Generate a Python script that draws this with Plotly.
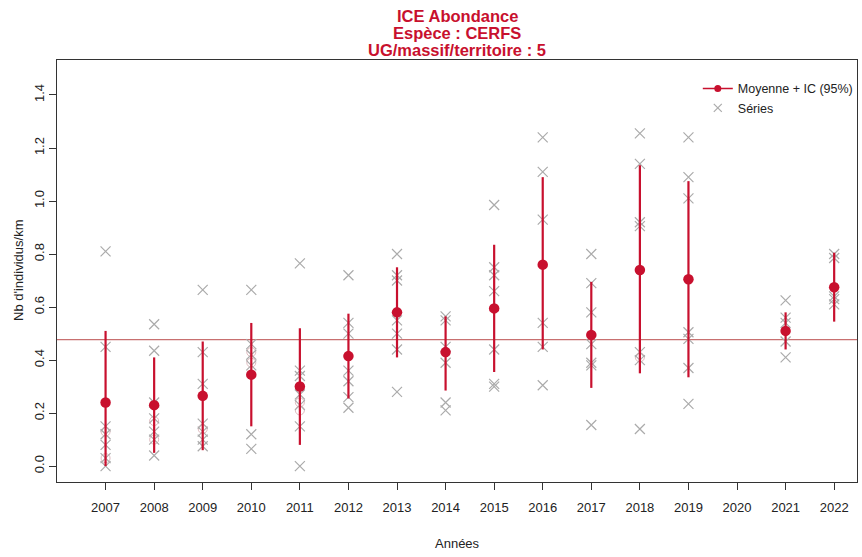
import plotly.graph_objects as go

# ---- Data ----
annees = [2007, 2008, 2009, 2010, 2011, 2012, 2013, 2014, 2015, 2016, 2017, 2018, 2019, 2020, 2021, 2022]
moyenne = [0.24, 0.23, 0.265, 0.345, 0.30, 0.415, 0.58, 0.43, 0.595, 0.76, 0.495, 0.74, 0.705, None, 0.51, 0.675]
ic_bas = [0.0, 0.05, 0.06, 0.15, 0.08, 0.255, 0.41, 0.285, 0.355, 0.44, 0.295, 0.35, 0.335, None, 0.44, 0.545]
ic_haut = [0.51, 0.41, 0.47, 0.54, 0.52, 0.575, 0.75, 0.565, 0.835, 1.09, 0.695, 1.135, 1.075, None, 0.58, 0.805]
moyenne_globale = 0.477

series_par_annee = {
    2007: [0.81, 0.45, 0.15, 0.12, 0.08, 0.03, 0.0],
    2008: [0.535, 0.435, 0.24, 0.18, 0.13, 0.10, 0.04],
    2009: [0.665, 0.43, 0.31, 0.16, 0.13, 0.10, 0.075],
    2010: [0.665, 0.46, 0.42, 0.38, 0.12, 0.065],
    2011: [0.765, 0.36, 0.34, 0.27, 0.23, 0.15, 0.0],
    2012: [0.72, 0.54, 0.50, 0.36, 0.32, 0.26, 0.22],
    2013: [0.80, 0.72, 0.70, 0.55, 0.50, 0.44, 0.28],
    2014: [0.565, 0.55, 0.45, 0.39, 0.24, 0.21],
    2015: [0.985, 0.75, 0.72, 0.66, 0.44, 0.31, 0.30],
    2016: [1.24, 1.11, 0.93, 0.54, 0.45, 0.305],
    2017: [0.80, 0.69, 0.58, 0.46, 0.39, 0.38, 0.155],
    2018: [1.255, 1.14, 0.92, 0.905, 0.43, 0.40, 0.14],
    2019: [1.24, 1.09, 1.01, 0.505, 0.48, 0.37, 0.235],
    2021: [0.625, 0.56, 0.54, 0.47, 0.41],
    2022: [0.80, 0.785, 0.64, 0.63, 0.61],
}
cercles_annee = [2007, 2007, 2008, 2008, 2009, 2010, 2010, 2011, 2011, 2018]
cercles_valeur = [0.13, 0.03, 0.17, 0.10, 0.14, 0.43, 0.39, 0.24, 0.21, 0.41]

titre_lignes = ["ICE Abondance", "Espèce : CERFS", "UG/massif/territoire : 5"]
titre_x = "Années"
titre_y = "Nb d'individus/km"
y_ticks = [0, 0.2, 0.4, 0.6, 0.8, 1.0, 1.2, 1.4]

ROUGE = "#C8102E"
GRIS = "#ABABAB"
FONT = "Liberation Sans, Arial, sans-serif"
TXT = "#222222"

# ---- Build ----
sx, sy = [], []
for a, vals in series_par_annee.items():
    for v in vals:
        sx.append(a)
        sy.append(v)

mx = [a for a, m in zip(annees, moyenne) if m is not None]
my = [m for m in moyenne if m is not None]
eplus = [h - m for h, m in zip(ic_haut, moyenne) if m is not None]
emoins = [m - b for b, m in zip(ic_bas, moyenne) if m is not None]

fig = go.Figure()
fig.add_shape(type="line", xref="paper", x0=0, x1=1, yref="y", y0=moyenne_globale, y1=moyenne_globale,
              line=dict(color="#C87070", width=1.2), layer="below")

fig.add_trace(go.Scatter(x=cercles_annee, y=cercles_valeur, mode="markers", showlegend=False,
                         marker=dict(symbol="circle-open", size=9, color="rgba(215,170,175,0.8)", line=dict(width=1)),
                         hoverinfo="skip"))
fig.add_trace(go.Scatter(x=sx, y=sy, mode="markers", showlegend=False,
                         marker=dict(symbol="x-thin-open", size=10, color=GRIS, line=dict(width=1.2, color=GRIS))))
fig.add_trace(go.Scatter(x=mx, y=my, mode="markers", showlegend=False,
                         marker=dict(symbol="circle", size=10.5, color=ROUGE),
                         error_y=dict(type="data", symmetric=False, array=eplus, arrayminus=emoins,
                                      color=ROUGE, thickness=2.2, width=0)))
# legend entries
fig.add_trace(go.Scatter(x=[None], y=[None], mode="lines+markers", name="Moyenne + IC (95%)",
                         line=dict(color=ROUGE, width=1.5), marker=dict(symbol="circle", size=7, color=ROUGE)))
fig.add_trace(go.Scatter(x=[None], y=[None], mode="markers", name="Séries",
                         marker=dict(symbol="x-thin-open", size=8, color=GRIS, line=dict(width=1.2, color=GRIS))))

axis_common = dict(showline=True, mirror=True, linecolor="#333333", linewidth=1, showgrid=False, zeroline=False,
                   ticks="outside", ticklen=7, tickcolor="#333333", automargin=False,
                   tickfont=dict(family=FONT, size=13, color=TXT))

annotations = []
for i, t in enumerate(titre_lignes):
    annotations.append(dict(text=f"<b>{t}</b>", xref="paper", x=0.5, xanchor="center",
                            yref="paper", y=1 + (44 - 17.2 * i) / 422, yanchor="middle", showarrow=False,
                            font=dict(family=FONT, size=16.5, color=ROUGE)))
annotations.append(dict(text=titre_x, xref="paper", x=0.5, xanchor="center", yref="paper", y=-61 / 422,
                        yanchor="middle", showarrow=False, font=dict(family=FONT, size=13, color=TXT)))
annotations.append(dict(text=titre_y, xref="paper", x=-39 / 800, xanchor="center", yref="paper", y=0.5,
                        yanchor="middle", textangle=-90, showarrow=False, font=dict(family=FONT, size=13, color=TXT)))

fig.update_layout(
    width=862, height=557,
    paper_bgcolor="white", plot_bgcolor="white",
    margin=dict(l=57, r=5, t=60, b=75, autoexpand=False),
    font=dict(family=FONT, size=13, color=TXT),
    xaxis=dict(range=[2006.0, 2022.47], tickmode="array", tickvals=annees, ticktext=[str(a) for a in annees],
               ticklabelstandoff=6, **axis_common),
    yaxis=dict(range=[-0.06, 1.532], tickmode="array", tickvals=y_ticks,
               tickformat=".1f", tickangle=-90, **axis_common),
    legend=dict(x=0.801, y=0.967, xanchor="left", yanchor="top", bgcolor="rgba(0,0,0,0)",
                font=dict(family=FONT, size=12.5, color=TXT), tracegroupgap=0, itemwidth=30),
    annotations=annotations,
)

fig.write_html("out.html", config={"displayModeBar": False},
               post_script="document.body.style.margin='0';")
